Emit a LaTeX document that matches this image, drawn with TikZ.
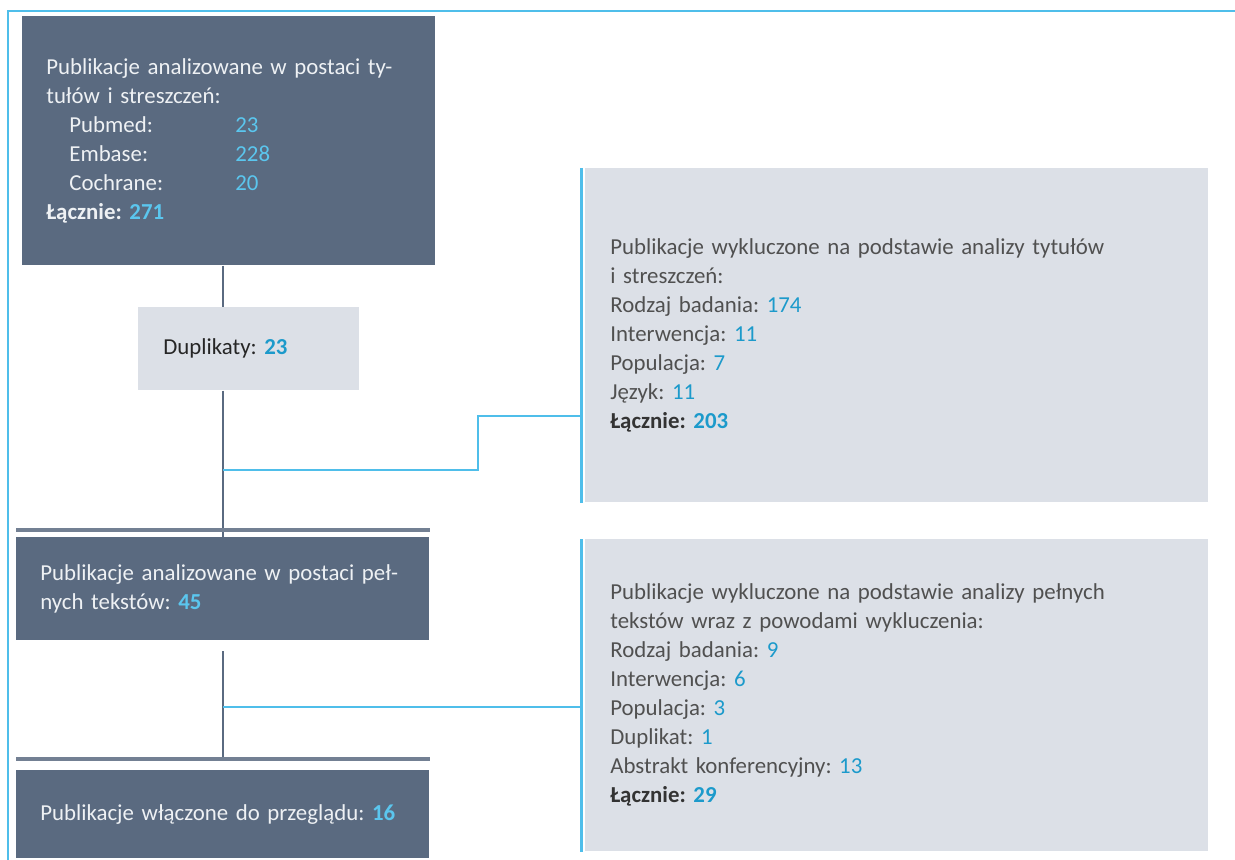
\documentclass[tikz,border=0pt]{standalone}
\usepackage{fontspec}
\setmainfont{Carlito}
\usepackage{xcolor}
\usetikzlibrary{positioning, calc}
\frenchspacing

\definecolor{slate}{HTML}{5A6A80}
\definecolor{paleslate}{HTML}{DCE0E7}
\definecolor{skyline}{HTML}{4FBEEA}
\definecolor{skynum}{HTML}{5BC6EE}
\definecolor{deepnum}{HTML}{1C9ACB}
\definecolor{greytext}{HTML}{505050}
\definecolor{whitetext}{HTML}{EEF1F4}

\begin{document}
\begin{tikzpicture}[x=0.2mm, y=-0.2mm,
  darkbox/.style={rectangle, fill=slate, text=whitetext, inner xsep=0.48cm, inner ysep=0pt, align=left, anchor=north west, font=\fontsize{13}{16.5}\selectfont},
  palebox/.style={rectangle, fill=paleslate, text=greytext, inner xsep=0.5cm, inner ysep=0pt, align=left, anchor=north west, font=\fontsize{13}{16.5}\selectfont},
  spine/.style={draw=slate, line width=1.7pt},
  feed/.style={draw=skyline, line width=1.4pt},
  rule/.style={draw=slate!85!white, line width=2.2pt}]
\useasboundingbox (0,0) rectangle (1235,860);

% frame
\draw[skyline, line width=1.2pt] (1235,11) -- (8,11) -- (8,860);

% left column
\node[darkbox, minimum width=8.26cm, minimum height=4.98cm, text width=7.30cm] (search) at (22,16) {Publikacje analizowane w postaci ty-\\tułów i streszczeń:\\\hspace*{0.46cm}\makebox[3.32cm][l]{Pubmed:}\textcolor{skynum}{23}\\\hspace*{0.46cm}\makebox[3.32cm][l]{Embase:}\textcolor{skynum}{228}\\\hspace*{0.46cm}\makebox[3.32cm][l]{Cochrane:}\textcolor{skynum}{20}\\\textbf{Łącznie: \textcolor{skynum}{271}}};
\node[palebox, minimum width=4.38cm, minimum height=1.66cm, text width=3.42cm, text=black!85] (dupes) at (138,307) {Duplikaty: \textbf{\textcolor{deepnum}{23}}};
\node[darkbox, minimum width=8.26cm, minimum height=2.06cm, text width=7.30cm] (fulltext) at (16,537) {Publikacje analizowane w postaci peł-\\nych tekstów: \textbf{\textcolor{skynum}{45}}};
\node[darkbox, minimum width=8.26cm, minimum height=1.76cm, text width=7.30cm] (included) at (16,770) {Publikacje włączone do przeglądu: \textbf{\textcolor{skynum}{16}}};

% right column
\node[palebox, minimum width=12.46cm, minimum height=6.68cm, text width=11.46cm] (exclA) at (585,168) {Publikacje wykluczone na podstawie analizy tytułów\\i streszczeń:\\Rodzaj badania: \textcolor{deepnum}{174}\\Interwencja: \textcolor{deepnum}{11}\\Populacja: \textcolor{deepnum}{7}\\Język: \textcolor{deepnum}{11}\\\textbf{\textcolor{black!80}{Łącznie:} \textcolor{deepnum}{203}}};
\node[palebox, minimum width=12.46cm, minimum height=6.24cm, text width=11.46cm] (exclB) at (585,539) {Publikacje wykluczone na podstawie analizy pełnych\\tekstów wraz z powodami wykluczenia:\\Rodzaj badania: \textcolor{deepnum}{9}\\Interwencja: \textcolor{deepnum}{6}\\Populacja: \textcolor{deepnum}{3}\\Duplikat: \textcolor{deepnum}{1}\\Abstrakt konferencyjny: \textcolor{deepnum}{13}\\\textbf{\textcolor{black!80}{Łącznie:} \textcolor{deepnum}{29}}};

% helper points
\coordinate (axis) at (223,0);
\coordinate (ruleA) at (16,530);
\coordinate (ruleB) at (16,759);
\coordinate (stepA) at (478,470);
\coordinate (stepB) at (478,416);
\coordinate (tapB) at (223,707);
\coordinate (gapB) at (223,651);

% connectors
\draw[spine] (search.south -| axis) -- (dupes.north -| axis);
\draw[spine] (dupes.south -| axis) -- (fulltext.north -| axis);
\draw[spine] (gapB) -- (ruleB -| axis);
\draw[rule] (ruleA) -- (ruleA -| fulltext.east);
\draw[rule] (ruleB) -- (ruleB -| included.east);
\draw[feed] ([xshift=-2pt]exclA.north west) -- ([xshift=-2pt]exclA.south west);
\draw[feed] ([xshift=-2pt]exclB.north west) -- ([xshift=-2pt]exclB.south west);
\draw[feed] (stepA -| axis) -- (stepA) -- (stepB) -- ([xshift=-2pt]stepB -| exclA.west);
\draw[feed] (tapB) -- ([xshift=-2pt]tapB -| exclB.west);
\end{tikzpicture}
\end{document}
